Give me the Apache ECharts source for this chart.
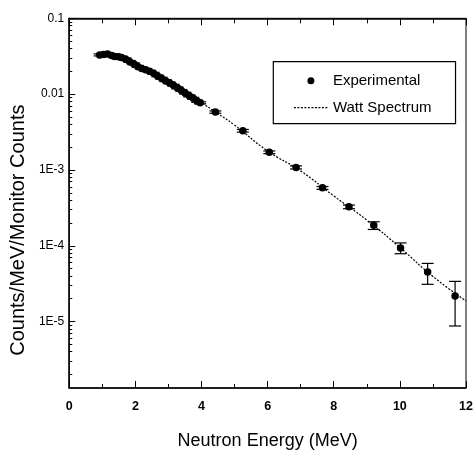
<!DOCTYPE html>
<html>
<head>
<meta charset="utf-8">
<script src="https://cdn.jsdelivr.net/npm/echarts@6/dist/echarts.min.js"></script>
<style>
html,body{margin:0;padding:0;background:#fff;}
#c{width:476px;height:455px;}
</style>
</head>
<body>
<div id="c"></div>
<script>
// Experimental data (MeV, counts/MeV/monitor counts)
const energy = [0.92,1.04,1.16,1.28,1.37,1.49,1.58,1.70,1.82,1.95,2.07,2.19,2.31,2.43,2.55,2.67,2.79,2.91,3.03,3.15,3.27,3.39,3.51,3.63,3.75,3.87,3.96,4.42,5.25,6.05,6.86,7.66,8.46,9.21,10.02,10.84,11.67];
const counts = [0.0329,0.0334,0.0339,0.0324,0.0314,0.0310,0.0305,0.0291,0.0270,0.0251,0.0232,0.0218,0.0209,0.0200,0.0188,0.0174,0.0162,0.0150,0.0141,0.0131,0.0121,0.0112,0.0103,0.0095,0.00881,0.00804,0.00769,0.0058,0.00329,0.00171,0.00108,0.00058,0.000326,0.000187,0.0000935,0.0000452,0.0000217];
const errLow = [0.0319,0.0324,0.0329,0.0314,0.0305,0.0301,0.0296,0.0282,0.0262,0.0243,0.0225,0.0211,0.0203,0.0194,0.0182,0.0169,0.0157,0.0146,0.0137,0.0127,0.0117,0.0109,0.0100,0.0092,0.00855,0.00780,0.00746,0.00560,0.00316,0.00164,0.00103,0.000555,0.000308,0.000164,0.0000785,0.0000310,0.00000875];
const errHigh = [0.0339,0.0344,0.0349,0.0334,0.0323,0.0319,0.0314,0.0300,0.0278,0.0259,0.0239,0.0225,0.0215,0.0206,0.0194,0.0179,0.0167,0.0155,0.0145,0.0135,0.0125,0.0115,0.0106,0.0098,0.00907,0.00828,0.00792,0.00600,0.00342,0.00178,0.00113,0.000605,0.000344,0.000207,0.000109,0.0000585,0.0000339];
// Watt spectrum curve
const wattE = [0.92,1.16,1.5,2.0,2.5,3.0,3.5,4.0,4.42,5.0,6.0,7.0,8.0,9.0,10.0,11.0,12.0];
const wattV = [0.0332,0.0336,0.0310,0.0243,0.0193,0.0143,0.0104,0.0077,0.0058,0.0039,0.00178,0.00097,0.000454,0.000218,0.0000950,0.0000393,0.0000187];
// Axis ticks
const yTickValues = [0.1,0.01,1e-3,1e-4,1e-5];
const yTickLabels = ['0.1','0.01','1E-3','1E-4','1E-5'];
const yMinValue = 1.33e-6, yMaxValue = 0.1;
const xMin = 0, xMax = 12, xStep = 2;

const lg = Math.log10;
const labelMap = {};
yTickValues.forEach((v,i)=>{ labelMap[lg(v).toFixed(3)] = yTickLabels[i]; });
const minorVals = [];
for (let d=-6; d<=-2; d++) for (let k=2;k<=9;k++){ const v=d+lg(k); if (v>lg(yMinValue) && v<lg(yMaxValue)) minorVals.push(v); }

const chart = echarts.init(document.getElementById('c'), null, {renderer:'canvas'});
const sans = '"Liberation Sans",Arial,Helvetica,sans-serif';
const yBase = {
  type:'value', gridIndex:0, min:lg(yMinValue), max:lg(yMaxValue),
  splitLine:{show:false}
};
chart.setOption({
  animation:false,
  backgroundColor:'#fff',
  grid:{left:67.5,right:10,top:18.3,bottom:65.7,show:true,borderColor:'#000',borderWidth:1,containLabel:false},
  legend:{
    orient:'vertical', left:273.3, top:61.7,
    padding:[10,24,7,20], itemGap:9,
    itemWidth:34, itemHeight:7,
    borderColor:'#000', borderWidth:1.2, backgroundColor:'#fff',
    textStyle:{fontFamily:sans,fontSize:15,color:'#000',lineHeight:18},
    data:[
      {name:'Experimental',icon:'circle',itemStyle:{color:'#000',opacity:1}},
      {name:'Watt Spectrum',itemStyle:{opacity:0},lineStyle:{color:'#000',width:1.2,type:[2,1.5],opacity:1}}
    ]
  },
  xAxis:[
    {type:'value',min:xMin,max:xMax,interval:xStep,position:'bottom',
     name:'Neutron Energy (MeV)',nameLocation:'middle',nameGap:44,
     nameTextStyle:{fontFamily:sans,fontSize:18,color:'#000'},
     axisLine:{show:true,lineStyle:{color:'#000',width:1.5}},
     axisTick:{show:true,inside:true,length:7,lineStyle:{color:'#000'}},
     minorTick:{show:true,splitNumber:2,length:4,lineStyle:{color:'#000'}},
     axisLabel:{fontFamily:sans,fontWeight:'bold',fontSize:12.5,color:'#000',margin:12},
     splitLine:{show:false}},
    {type:'value',min:xMin,max:xMax,interval:xStep,position:'top',
     axisLine:{show:true,lineStyle:{color:'#000',width:1.5}},
     axisTick:{show:true,inside:true,length:7,lineStyle:{color:'#000'}},
     minorTick:{show:true,splitNumber:2,length:5,lineStyle:{color:'#000'}},
     axisLabel:{show:false},splitLine:{show:false}}
  ],
  yAxis:[
    Object.assign({}, yBase, {
      position:'left',
      name:'Counts/MeV/Monitor Counts', nameLocation:'middle', nameRotate:90, nameGap:40,
      nameTextStyle:{fontFamily:sans,fontSize:20,color:'#000',padding:[0,54,0,0]},
      axisLine:{show:true,lineStyle:{color:'#000',width:1.5}},
      axisTick:{show:true,inside:true,length:6,customValues:yTickValues.map(lg),lineStyle:{color:'#000'}},
      axisLabel:{customValues:yTickValues.map(lg),margin:5,fontFamily:sans,fontSize:12,color:'#000',
        formatter:(v)=>labelMap[v.toFixed(3)] || ''}
    }),
    Object.assign({}, yBase, {
      position:'left',
      axisLine:{show:false},
      axisTick:{show:true,inside:true,length:3,customValues:minorVals,lineStyle:{color:'#000'}},
      axisLabel:{show:false}
    })
  ],
  series:[
    {name:'Watt Spectrum',type:'line',xAxisIndex:0,yAxisIndex:0,
     data:wattE.map((e,i)=>[e,lg(wattV[i])]),
     showSymbol:false,symbol:'none',smooth:true,
     lineStyle:{color:'#000',width:1.2,type:[2,1.5]},itemStyle:{color:'#000'},z:2},
    {name:'errors',type:'custom',xAxisIndex:0,yAxisIndex:0,
     data:energy.map((e,i)=>[e,lg(errLow[i]),lg(errHigh[i])]),
     encode:{x:0,y:[1,2]},
     renderItem:function(params,api){
       const x=api.value(0);
       const p1=api.coord([x,api.value(1)]), p2=api.coord([x,api.value(2)]);
       const w=6;
       const st={stroke:'#000',lineWidth:1.2};
       return {type:'group',children:[
         {type:'line',shape:{x1:p1[0],y1:p1[1],x2:p2[0],y2:p2[1]},style:st},
         {type:'line',shape:{x1:p1[0]-w,y1:p1[1],x2:p1[0]+w,y2:p1[1]},style:st},
         {type:'line',shape:{x1:p2[0]-w,y1:p2[1],x2:p2[0]+w,y2:p2[1]},style:st}
       ]};
     },z:3},
    {name:'Experimental',type:'scatter',xAxisIndex:0,yAxisIndex:0,
     data:energy.map((e,i)=>[e,lg(counts[i])]),
     symbol:'circle',symbolSize:7.5,itemStyle:{color:'#000',opacity:1},z:4}
  ]
});
</script>
</body>
</html>
